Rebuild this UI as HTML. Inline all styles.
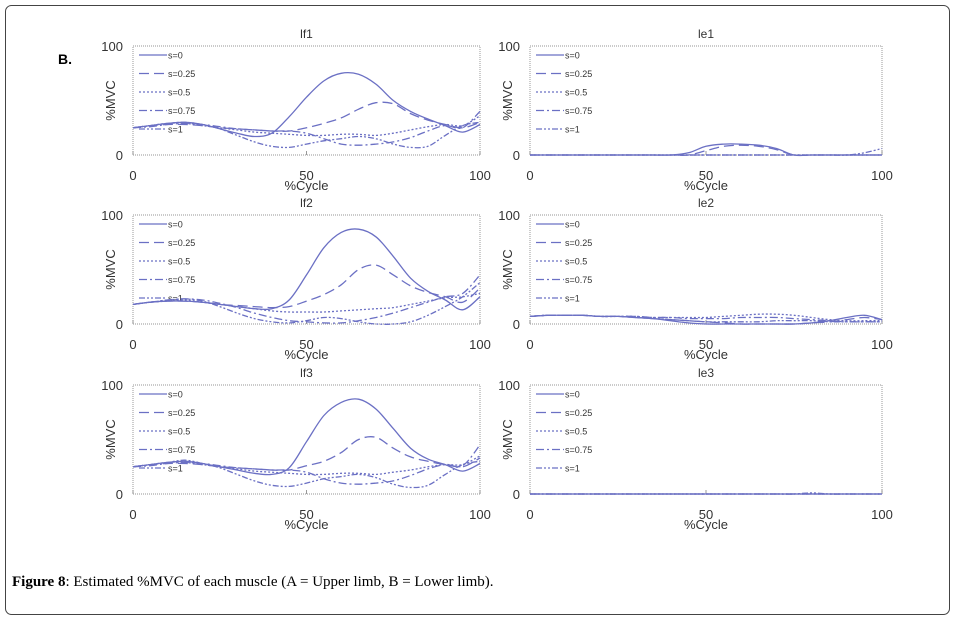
<!DOCTYPE html>
<html><head><meta charset="utf-8"><style>
body{margin:0;background:#fff;}
svg{display:block;font-family:"Liberation Sans",sans-serif;}
</style></head><body>
<svg id="fig" width="956" height="621" viewBox="0 0 956 621">
<rect x="5.5" y="5.5" width="944" height="609" rx="6" fill="#fff" stroke="#444" stroke-width="1"/>
<text x="58" y="64" font-size="14" font-weight="bold">B.</text>
<text x="12" y="586" font-family="Liberation Serif,serif" font-size="15"><tspan font-weight="bold">Figure 8</tspan>: Estimated %MVC of each muscle (A = Upper limb, B = Lower limb).</text>
<g id="charts"></g>
</svg>
<script>
const xCats=[0,5,10,15,20,25,30,35,40,45,50,55,60,65,70,75,80,85,90,95,100];
const seriesNames=["s=0","s=0.25","s=0.5","s=0.75","s=1"];
const xTicks=[0,50,100];
const yTicks=[0,100];
const lf1_s0=[25,27,29,30,28,24,20,17,20,35,53,68,75,74,65,50,40,33,27,21,28];
const lf1_s25=[25,27,28,28,27,25,24,23,22,22,25,29,34,42,48,47,38,32,28,25,30];
const lf1_s50=[25,27,29,29,27,25,23,21,20,19,18,18,19,19,18,20,23,26,28,27,36];
const lf1_s75=[25,26,28,29,28,26,24,23,22,22,20,15,10,9,10,12,16,22,27,25,40];
const lf1_s1=[25,27,29,30,28,24,18,12,8,7,10,13,15,17,15,10,7,8,18,27,30];
const lf2_s0=[18,20,21,21,20,18,16,14,14,22,45,70,84,87,80,62,42,30,22,13,25];
const lf2_s25=[18,20,21,21,20,18,17,16,15,16,21,27,36,50,54,45,35,29,25,20,33];
const lf2_s50=[18,20,21,22,20,18,16,14,12,11,11,11,12,13,14,15,18,21,24,25,28];
const lf2_s75=[18,20,22,23,22,19,15,10,6,3,2,1,1,3,6,10,15,20,25,28,45];
const lf2_s1=[18,20,22,23,21,16,10,5,2,1,3,6,5,2,0,0,2,8,16,25,38];
const lf3_s0=[25,27,29,30,28,25,22,19,18,24,48,72,84,87,78,60,42,32,27,21,28];
const lf3_s25=[25,27,28,28,27,25,24,23,22,22,26,30,38,50,52,42,34,30,27,25,33];
const lf3_s50=[25,27,29,29,27,25,23,21,20,19,18,18,19,19,18,20,22,25,27,27,35];
const lf3_s75=[25,26,28,29,28,26,24,23,22,22,20,14,10,9,10,12,17,23,27,26,45];
const lf3_s1=[25,27,29,31,28,24,18,12,8,7,10,14,16,18,15,9,6,8,18,27,30];
const le1_s0=[0,0,0,0,0,0,0,0,0,2,8,10,10,9,6,0,0,0,0,0,0];
const le1_s25=[0,0,0,0,0,0,0,0,0,0,4,8,9,8,5,0,0,0,0,0,0];
const le1_s50=[0,0,0,0,0,0,0,0,0,0,0,0,0,0,0,0,0,0,0,0,0];
const le1_s75=[0,0,0,0,0,0,0,0,0,0,0,0,0,0,0,0,0,0,0,0,0];
const le1_s1=[0,0,0,0,0,0,0,0,0,0,0,0,0,0,0,0,0,0,0,2,6];
const le2_s0=[7,8,8,8,7,7,6,5,3,1,0,0,0,0,0,0,1,3,6,8,4];
const le2_s25=[7,8,8,8,7,7,6,5,4,3,2,1,0,0,0,0,1,2,4,6,4];
const le2_s50=[7,8,8,8,7,7,7,6,6,6,6,7,8,9,9,8,6,4,3,3,3];
const le2_s75=[7,8,8,8,7,7,7,6,6,5,5,5,6,6,6,5,4,3,2,2,2];
const le2_s1=[7,8,8,8,7,7,6,5,4,3,2,2,2,2,3,3,3,2,2,2,2];
const le3_s0=[0,0,0,0,0,0,0,0,0,0,0,0,0,0,0,0,0,0,0,0,0];
const le3_s25=[0,0,0,0,0,0,0,0,0,0,0,0,0,0,0,0,0,0,0,0,0];
const le3_s50=[0,0,0,0,0,0,0,0,0,0,0,0,0,0,0,0,0,0,0,0,0];
const le3_s75=[0,0,0,0,0,0,0,0,0,0,0,0,0,0,0,0,0,0,0,0,0];
const le3_s1=[0,0,0,0,0,0,0,0,0,0,0,0,0,0,0,0,1,0,0,0,0];
const panelTitles=["lf1","le1","lf2","le2","lf3","le3"];
const panelData=[[lf1_s0,lf1_s25,lf1_s50,lf1_s75,lf1_s1],[le1_s0,le1_s25,le1_s50,le1_s75,le1_s1],
[lf2_s0,lf2_s25,lf2_s50,lf2_s75,lf2_s1],[le2_s0,le2_s25,le2_s50,le2_s75,le2_s1],
[lf3_s0,lf3_s25,lf3_s50,lf3_s75,lf3_s1],[le3_s0,le3_s25,le3_s50,le3_s75,le3_s1]];

const NS="http://www.w3.org/2000/svg";
const dashes=["","10,5","2,2","8,3,2,3","6,2,2,2,2,2"];
const COL="#6b70c4";
const cols=[[133,480],[530,882]];
const rows=[[46,155],[215,324],[385,494]];
const root=document.getElementById("charts");
function mk(tag,attrs,parent){const e=document.createElementNS(NS,tag);for(const k in attrs)e.setAttribute(k,attrs[k]);parent.appendChild(e);return e;}
function smooth(pts){let d="M"+pts[0][0].toFixed(1)+","+pts[0][1].toFixed(1);
  for(let i=0;i<pts.length-1;i++){const p0=pts[Math.max(i-1,0)],p1=pts[i],p2=pts[i+1],p3=pts[Math.min(i+2,pts.length-1)];
    const c1=[p1[0]+(p2[0]-p0[0])/6,p1[1]+(p2[1]-p0[1])/6],c2=[p2[0]-(p3[0]-p1[0])/6,p2[1]-(p3[1]-p1[1])/6];
    d+=` C${c1[0].toFixed(1)},${c1[1].toFixed(1)} ${c2[0].toFixed(1)},${c2[1].toFixed(1)} ${p2[0].toFixed(1)},${p2[1].toFixed(1)}`;}
  return d;}
panelTitles.forEach((t,i)=>{
  const [x0,x1]=cols[i%2],[y0,y1]=rows[Math.floor(i/2)];
  const sx=v=>x0+(v-0)/100*(x1-x0);
  const sy=v=>y1-(v/100)*(y1-y0);
  const g=mk("g",{},root);
  
  
  const fr=mk("rect",{x:x0,y:y0,width:x1-x0,height:y1-y0,fill:"#fff",stroke:"#aaa","stroke-width":1.2,"stroke-dasharray":"1,1"},g);
  
  
  const tt=mk("text",{x:(x0+x1)/2,y:y0-8,"font-size":12,"text-anchor":"middle",fill:"#333"},g);tt.textContent=t;
  
  
  yTicks.forEach(v=>{const e=mk("text",{x:x0-10,y:sy(v)+5,"font-size":13,"text-anchor":"end",fill:"#333"},g);e.textContent=v;
    
    });
  xTicks.forEach(v=>{const e=mk("text",{x:sx(v),y:y1+25,"font-size":13,"text-anchor":"middle",fill:"#333"},g);e.textContent=v;
    
    
    mk("line",{x1:sx(v),x2:sx(v),y1:y1,y2:y1-4,stroke:"#999"},g);});
  const xt=mk("text",{x:(x0+x1)/2,y:y1+35,"font-size":13,"text-anchor":"middle",fill:"#333"},g);xt.textContent="%Cycle";
  
  
  const yc=(y0+y1)/2;
  const yt=mk("text",{x:x0-18,y:yc,"font-size":13,"text-anchor":"middle",fill:"#333",transform:`rotate(-90 ${x0-18} ${yc})`},g);yt.textContent="%MVC";
  
  
  seriesNames.forEach((n,k)=>{
    const ly=y0+9+k*18.5;
    const ll=mk("line",{x1:x0+6,x2:x0+34,y1:ly,y2:ly,stroke:COL,"stroke-width":1.3,"stroke-dasharray":dashes[k]},g);
    
    
    const lt=mk("text",{x:x0+35,y:ly+3.5,"font-size":9,fill:"#333"},g);lt.textContent=n;
    
    
  });
  panelData[i].forEach((arr,k)=>{
    const pts=arr.map((v,j)=>[sx(xCats[j]),sy(v)]);
    const p=mk("path",{d:smooth(pts),fill:"none",stroke:COL,"stroke-width":1.3,"stroke-dasharray":dashes[k],"stroke-linejoin":"round"},g);
    
    
  });
});
</script>
</body></html>
